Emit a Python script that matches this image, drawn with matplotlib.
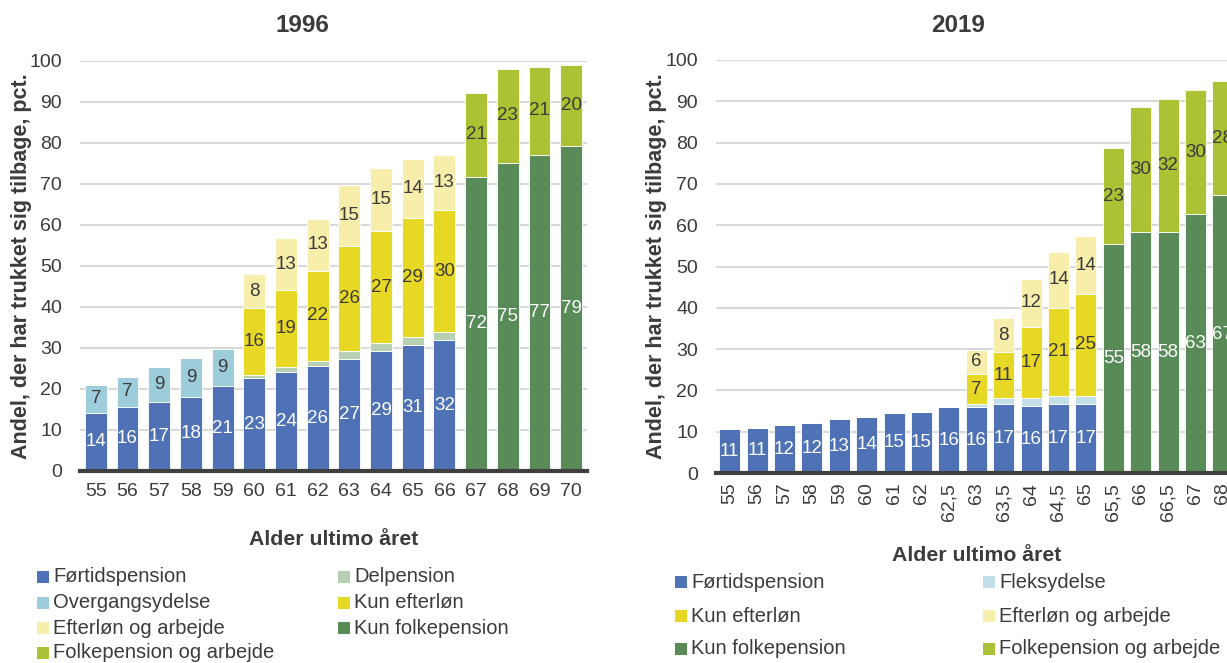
import matplotlib
matplotlib.use("Agg")
import matplotlib.pyplot as plt
from matplotlib.patches import Rectangle
import numpy as np

plt.rcParams['font.family'] = ['Liberation Sans', 'DejaVu Sans']

# ---- 1996 ----
ages_96 = ["55", "56", "57", "58", "59", "60", "61", "62", "63", "64", "65", "66",
           "67", "68", "69", "70"]
fortid_96 = [14.1, 15.6, 16.8, 18.0, 20.6, 22.7, 24.1, 25.6, 27.2, 29.2, 30.7, 31.8, 0, 0, 0, 0]
overgang_96 = [6.9, 7.3, 8.6, 9.4, 9.1, 0, 0, 0, 0, 0, 0, 0, 0, 0, 0, 0]
delpension_96 = [0, 0, 0, 0, 0, 0.6, 1.1, 1.2, 1.9, 1.9, 2.0, 2.0, 0, 0, 0, 0]
kun_efterlon_96 = [0, 0, 0, 0, 0, 16.4, 18.9, 22.0, 25.6, 27.4, 29.0, 29.8, 0, 0, 0, 0]
efterlon_arb_96 = [0, 0, 0, 0, 0, 8.2, 12.6, 12.7, 14.9, 15.3, 14.3, 13.4, 0, 0, 0, 0]
kun_folke_96 = [0, 0, 0, 0, 0, 0, 0, 0, 0, 0, 0, 0, 71.6, 75.1, 77.1, 79.3]
folke_arb_96 = [0, 0, 0, 0, 0, 0, 0, 0, 0, 0, 0, 0, 20.6, 22.9, 21.3, 19.6]

# ---- 2019 ----
ages_19 = ["55", "56", "57", "58", "59", "60", "61", "62", "62,5", "63", "63,5", "64",
           "64,5", "65", "65,5", "66", "66,5", "67", "68"]
fortid_19 = [10.6, 10.8, 11.6, 12.1, 13.0, 13.6, 14.6, 14.8, 15.9, 15.9, 16.7, 16.2, 16.6, 16.6,
             0, 0, 0, 0, 0]
fleks_19 = [0, 0, 0, 0, 0, 0, 0, 0, 0, 0.8, 1.4, 1.9, 2.1, 2.1, 0, 0, 0, 0, 0]
kun_efterlon_19 = [0, 0, 0, 0, 0, 0, 0, 0, 0, 7.2, 11.1, 17.3, 21.2, 24.6, 0, 0, 0, 0, 0]
efterlon_arb_19 = [0, 0, 0, 0, 0, 0, 0, 0, 0, 6.0, 8.4, 11.6, 13.7, 14.1, 0, 0, 0, 0, 0]
kun_folke_19 = [0, 0, 0, 0, 0, 0, 0, 0, 0, 0, 0, 0, 0, 0, 55.4, 58.3, 58.3, 62.6, 67.2]
folke_arb_19 = [0, 0, 0, 0, 0, 0, 0, 0, 0, 0, 0, 0, 0, 0, 23.3, 30.2, 32.3, 30.2, 27.6]

C_FORTID = "#4f71b6"
C_OVERGANG = "#9dcdda"
C_DEL = "#b6d1b2"
C_FLEKS = "#c3e0e8"
C_KE = "#e8d826"
C_EA = "#f7eeab"
C_KF = "#588b58"
C_FA = "#adc135"
TXT = "#3b3b3b"

W, H = 1227, 663
fig = plt.figure(figsize=(W / 100, H / 100), dpi=100)


def px(x, y):
    return x / W, 1 - y / H


def draw_panel(ax, ages, series, rotate, width):
    x = np.arange(len(ages))
    bottom = np.zeros(len(ages))
    for vals, color, label_color, show in series:
        v = np.array(vals, dtype=float)
        ax.bar(x, v, width, bottom=bottom, color=color, edgecolor="white",
               linewidth=0.6, zorder=2)
        if show:
            for xi, vi, bi in zip(x, v, bottom):
                if vi >= 3:
                    ax.text(xi, bi + vi / 2, f"{vi:.0f}", ha="center", va="center",
                            fontsize=13.5, color=label_color, zorder=3, clip_on=False)
        bottom = bottom + v
    ax.set_ylim(0, 100)
    ax.set_xlim(-0.5, len(ages) - 0.5)
    ax.set_yticks(range(0, 101, 10))
    ax.yaxis.grid(True, color="#d9d9d9", linewidth=1.5, zorder=0)
    ax.set_axisbelow(True)
    for s in ax.spines.values():
        s.set_visible(False)
    ax.axhline(0, color="#404040", linewidth=3, zorder=4, clip_on=False)
    ax.set_xticks(x)
    ax.set_xticklabels(ages, rotation=90 if rotate else 0)
    ax.tick_params(axis="both", length=0, labelsize=14, labelcolor=TXT)
    ax.tick_params(axis="y", pad=13)
    ax.tick_params(axis="x", pad=9 if not rotate else 7)


def legend_block(entries, x_cols, y_rows, ncol_rows):
    i = 0
    for col, xc in enumerate(x_cols):
        for r in range(ncol_rows[col]):
            label, color = entries[i]
            i += 1
            yc = y_rows[r]
            x0, y0 = px(xc, yc + 6)
            fig.add_artist(Rectangle((x0, y0), 12 / W, 12 / H, transform=fig.transFigure,
                                     facecolor=color, edgecolor="none"))
            tx, ty = px(xc + 16, yc)
            fig.text(tx, ty, label, ha="left", va="center", fontsize=14.5, color=TXT)


# Left panel: 1996
ax1 = fig.add_axes([80 / W, 1 - 470.7 / H, 507 / W, 410 / H])
draw_panel(ax1, ages_96, [
    (fortid_96, C_FORTID, "white", True),
    (overgang_96, C_OVERGANG, TXT, True),
    (delpension_96, C_DEL, TXT, False),
    (kun_efterlon_96, C_KE, TXT, True),
    (efterlon_arb_96, C_EA, TXT, True),
    (kun_folke_96, C_KF, "white", True),
    (folke_arb_96, C_FA, TXT, True),
], rotate=False, width=0.69)
ax1.set_ylabel("Andel, der har trukket sig tilbage, pct.", fontsize=15.5,
               fontweight="bold", color=TXT)
ax1.yaxis.set_label_coords(-0.095, 0.5)
ax1.set_xlabel("Alder ultimo året", fontsize=15.3, fontweight="bold", color=TXT)
ax1.xaxis.set_label_coords(0.5, -0.145)
fig.text(*px(302, 25), "1996", ha="center", va="center", fontsize=17.5,
         fontweight="bold", color=TXT)

# Right panel: 2019
ax2 = fig.add_axes([716 / W, 1 - 473 / H, 520.6 / W, 413 / H])
draw_panel(ax2, ages_19, [
    (fortid_19, C_FORTID, "white", True),
    (fleks_19, C_FLEKS, TXT, False),
    (kun_efterlon_19, C_KE, TXT, True),
    (efterlon_arb_19, C_EA, TXT, True),
    (kun_folke_19, C_KF, "white", True),
    (folke_arb_19, C_FA, TXT, True),
], rotate=True, width=0.77)
ax2.set_ylabel("Andel, der har trukket sig tilbage, pct.", fontsize=15.5,
               fontweight="bold", color=TXT)
ax2.yaxis.set_label_coords(-0.095, 0.5)
ax2.set_xlabel("Alder ultimo året", fontsize=15.3, fontweight="bold", color=TXT)
ax2.xaxis.set_label_coords(0.5, -0.177)
fig.text(*px(958, 25), "2019", ha="center", va="center", fontsize=17.5,
         fontweight="bold", color=TXT)

legend_block([
    ("Førtidspension", C_FORTID), ("Overgangsydelse", C_OVERGANG),
    ("Efterløn og arbejde", C_EA), ("Folkepension og arbejde", C_FA),
    ("Delpension", C_DEL), ("Kun efterløn", C_KE), ("Kun folkepension", C_KF),
], [37, 338], [577, 603, 628, 653], [4, 3])

legend_block([
    ("Førtidspension", C_FORTID), ("Kun efterløn", C_KE), ("Kun folkepension", C_KF),
    ("Fleksydelse", C_FLEKS), ("Efterløn og arbejde", C_EA), ("Folkepension og arbejde", C_FA),
], [675, 983], [582, 616, 649], [3, 3])

fig.savefig("out.png", dpi=100)
